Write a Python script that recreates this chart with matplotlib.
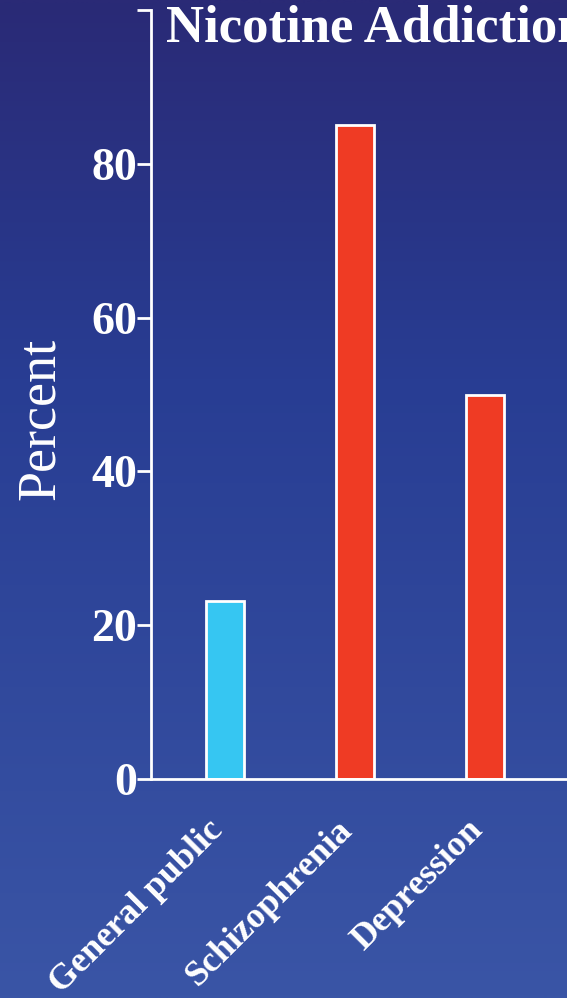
import numpy as np
import matplotlib
matplotlib.use("Agg")
import matplotlib.pyplot as plt
from matplotlib.colors import LinearSegmentedColormap
from matplotlib.transforms import ScaledTranslation

# Data
categories = ["General public", "Schizophrenia", "Depression"]
percent = [23.2, 85, 50]
bar_colors = ["#36c6f2", "#ef3b24"]
yticks = [0, 20, 40, 60, 80, 100]
ytick_labels = ["0", "20", "40", "60", "80", ""]

serif = ["Liberation Serif", "DejaVu Serif"]

W, H = 567, 998
fig = plt.figure(figsize=(W / 100, H / 100), dpi=100)

# Vertical gradient background
bg = fig.add_axes([0, 0, 1, 1], zorder=0)
cmap = LinearSegmentedColormap.from_list(
    "slide", [(0.0, "#3a55a6"), (0.62, "#283d93"), (1.0, "#2a2a76")])
grad = np.linspace(0, 1, 512).reshape(-1, 1)
bg.imshow(grad, aspect="auto", cmap=cmap, origin="lower", extent=[0, 1, 0, 1])
bg.set_axis_off()

# Main axes (right side runs past the figure edge)
left_px, right_px, top_px, bottom_px = 151, 607, 10, 779
ax = fig.add_axes([left_px / W, 1 - bottom_px / H,
                   (right_px - left_px) / W, (bottom_px - top_px) / H], zorder=1)
ax.patch.set_alpha(0)

x = np.arange(len(categories))
colors = [bar_colors[0]] + [bar_colors[1]] * (len(categories) - 1)
ax.bar(x, percent, width=0.29, color=colors, edgecolor="white", linewidth=2)

ax.set_xlim(-0.57, 2.94)
ax.set_ylim(0, 100)

for s in ["top", "right"]:
    ax.spines[s].set_visible(False)
for s in ["left", "bottom"]:
    ax.spines[s].set_color("white")
    ax.spines[s].set_linewidth(2)

ax.set_yticks(yticks)
ax.set_yticklabels(ytick_labels, fontfamily=serif, fontweight="bold",
                   fontsize=33, color="white")
ax.tick_params(axis="y", length=10, width=2, color="white", pad=0)

ax.set_xticks(x)
ax.set_xticklabels(categories, fontfamily=serif, fontweight="bold",
                   fontsize=26, color="white", rotation=45, ha="right",
                   va="top", rotation_mode="anchor")
ax.tick_params(axis="x", length=0, pad=25)
shift = ScaledTranslation(-19 / 100, 0, fig.dpi_scale_trans)
for lab in ax.get_xticklabels():
    lab.set_transform(lab.get_transform() + shift)

fig.text(41 / W, 1 - 419 / H, "Percent", fontfamily=serif, fontsize=39,
         color="white", rotation=90, ha="center", va="center")

fig.text(166 / W, 1 - 5 / H, "Nicotine Addiction", fontfamily=serif,
         fontweight="bold", fontsize=38, color="white", ha="left", va="top")

fig.savefig("out.png", dpi=100)
